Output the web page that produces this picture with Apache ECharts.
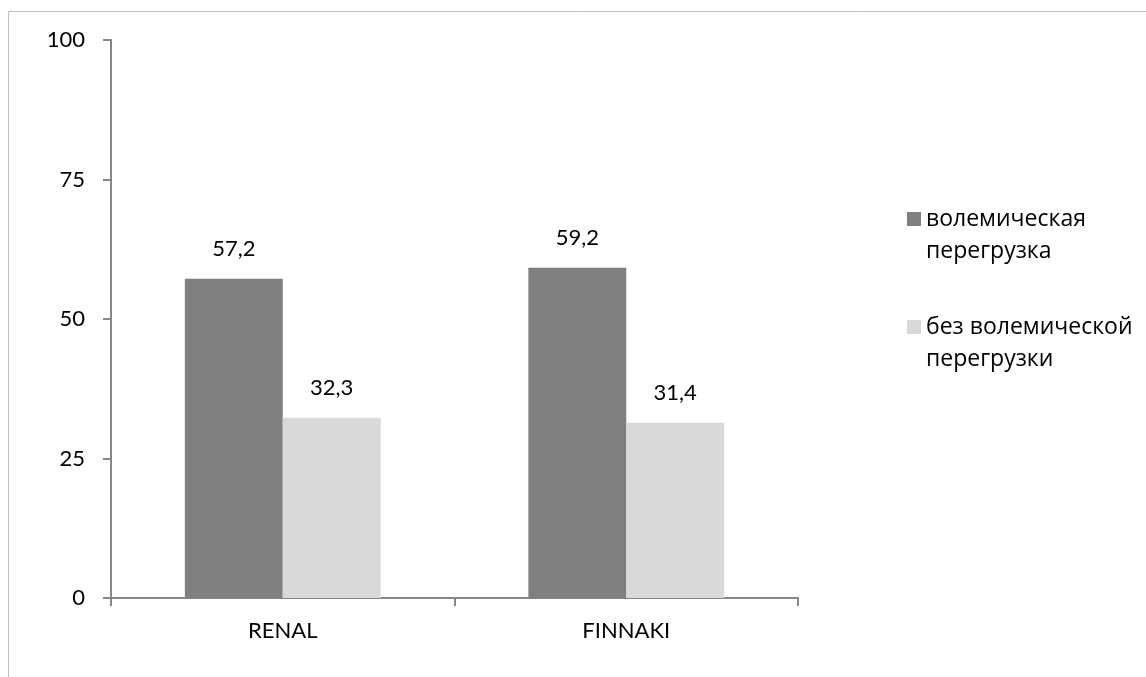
<!DOCTYPE html>
<html>
<head>
<meta charset="utf-8">
<script src="https://cdn.jsdelivr.net/npm/echarts@6/dist/echarts.min.js"></script>
<style>
  html, body { margin: 0; padding: 0; background: #fff; }
  #chart { width: 1146px; height: 677px; }
</style>
</head>
<body>
<div id="chart"></div>
<script>
const categories = ['RENAL', 'FINNAKI']
const seriesNames = ['волемическая\nперегрузка', 'без волемической\nперегрузки']
const overload = [57.2, 59.2]
const noOverload = [32.3, 31.4]
const yTicks = [0, 25, 50, 75, 100]

const font = 'Lato, "Open Sans", sans-serif'
const axisColor = '#868686'

const myChart = echarts.init(document.getElementById('chart'))

const barLabel = {
  show: true,
  position: 'top',
  distance: 19,
  color: '#000',
  fontSize: 22,
  fontFamily: font,
  formatter: p => String(p.value).replace('.', ',')
}

myChart.setOption({
  animation: false,
  grid: { left: 111, right: 348, top: 40, bottom: 79 },
  graphic: [{
    type: 'rect',
    shape: { x: 8.5, y: 11.5, width: 1300, height: 900 },
    style: { fill: 'none', stroke: '#bfbfbf', lineWidth: 1 },
    silent: true
  }],
  legend: {
    orient: 'vertical',
    left: 902,
    top: 166,
    itemWidth: 14,
    itemHeight: 14,
    itemGap: 12,
    icon: 'rect',
    // blank first line keeps the icon level with the first text line
    formatter: name => '\n' + name,
    textStyle: {
      color: '#000',
      fontSize: 23,
      fontFamily: '"Open Sans", sans-serif',
      lineHeight: 32
    },
    data: seriesNames
  },
  xAxis: {
    type: 'category',
    data: categories,
    axisLine: { lineStyle: { color: axisColor, width: 2 } },
    axisTick: { show: true, length: 8, lineStyle: { color: axisColor, width: 2 } },
    axisLabel: { color: '#000', fontSize: 22, fontFamily: font, margin: 22 }
  },
  yAxis: {
    type: 'value',
    min: yTicks[0],
    max: yTicks[yTicks.length - 1],
    interval: 25,
    splitLine: { show: false },
    axisLine: { show: true, lineStyle: { color: axisColor, width: 2 } },
    axisTick: { show: true, length: 8, lineStyle: { color: axisColor, width: 2 } },
    axisLabel: { color: '#000', fontSize: 22, fontFamily: font, margin: 26 }
  },
  series: [
    {
      name: seriesNames[0],
      type: 'bar',
      data: overload,
      barGap: '0%',
      barCategoryGap: '43%',
      itemStyle: { color: '#808080' },
      label: barLabel
    },
    {
      name: seriesNames[1],
      type: 'bar',
      data: noOverload,
      itemStyle: { color: '#d9d9d9' },
      label: barLabel
    }
  ]
})
</script>
</body>
</html>
